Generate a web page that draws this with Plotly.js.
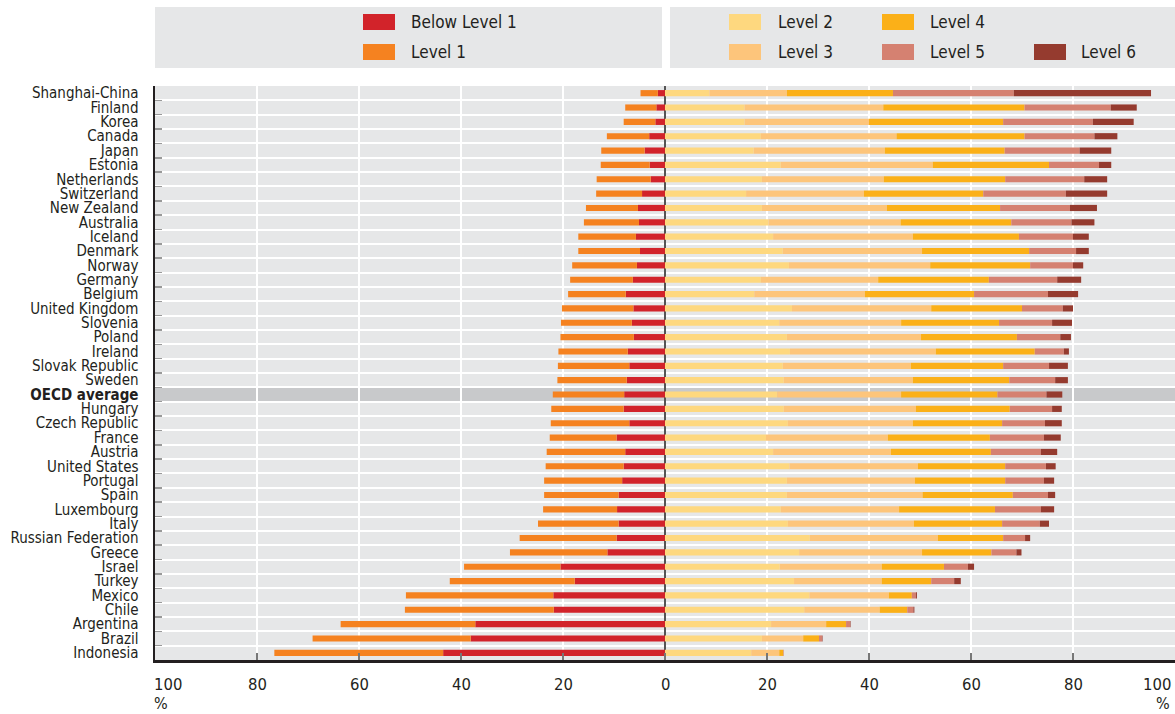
<!DOCTYPE html>
<html><head><meta charset="utf-8">
<script src="https://cdn.plot.ly/plotly-3.0.1.min.js"></script>
<style>html,body{margin:0;padding:0;background:#fff;}#chart{width:1175px;height:714px;}</style>
</head><body><div id="chart"></div>
<script>
const countries = ["Shanghai-China","Finland","Korea","Canada","Japan","Estonia","Netherlands","Switzerland","New Zealand","Australia","Iceland","Denmark","Norway","Germany","Belgium","United Kingdom","Slovenia","Poland","Ireland","Slovak Republic","Sweden","OECD average","Hungary","Czech Republic","France","Austria","United States","Portugal","Spain","Luxembourg","Italy","Russian Federation","Greece","Israel","Turkey","Mexico","Chile","Argentina","Brazil","Indonesia"];
const belowLevel1 = [1.4,1.7,1.9,3.1,4.0,3.0,2.8,4.5,5.3,5.1,5.7,4.9,5.5,6.3,7.7,6.2,6.5,6.1,7.3,7.0,7.5,8.0,8.1,7.0,9.5,7.8,8.1,8.4,9.1,9.4,9.1,9.5,11.3,20.5,17.7,21.9,21.8,37.2,38.1,43.5];
const level1 = [3.4,6.1,6.2,8.3,8.5,9.6,10.6,9.0,10.2,10.8,11.3,12.1,12.7,12.3,11.3,14.0,13.9,14.4,13.6,14.0,13.6,14.0,14.2,15.4,13.1,15.4,15.3,15.3,14.6,14.5,15.8,19.0,19.1,18.9,24.5,28.9,29.2,26.4,31.0,33.1];
const level2 = [8.7,15.6,15.6,18.8,17.4,22.7,19.0,15.9,19.0,20.3,21.2,23.1,24.3,18.8,17.5,24.9,22.4,23.9,24.5,23.1,23.3,22.0,23.3,24.1,19.8,21.2,24.4,23.9,23.9,22.7,24.1,28.4,26.3,22.5,25.3,28.3,27.3,20.8,19.0,16.9];
const level3 = [15.2,27.2,24.4,26.6,25.7,29.8,23.9,23.1,24.5,25.9,27.4,27.3,27.7,23.0,21.7,27.3,23.9,26.3,28.6,25.1,25.3,24.3,25.9,24.5,23.9,23.1,25.2,25.1,26.6,23.2,24.7,25.1,24.1,20.0,17.2,15.6,14.8,10.8,8.1,5.5];
const level4 = [20.8,27.7,26.3,25.1,23.5,22.8,23.8,23.4,22.2,21.7,20.8,21.0,19.6,21.7,21.4,17.8,19.2,18.8,19.4,18.1,18.9,18.9,18.4,17.5,20.0,19.6,17.1,17.7,17.7,18.8,17.3,12.8,13.6,12.2,9.7,4.5,5.4,3.9,3.1,0.8];
const level5 = [23.7,16.9,17.6,13.7,14.7,9.8,15.5,16.2,13.7,11.8,10.6,9.2,8.4,13.4,14.5,8.0,10.4,8.5,5.7,9.0,9.0,9.6,8.3,8.4,10.6,9.8,8.0,7.6,6.9,9.0,7.4,4.3,4.9,4.7,4.5,0.8,1.2,0.8,0.6,0.1];
const level6 = [26.9,5.1,8.0,4.5,6.2,2.4,4.5,8.1,5.3,4.5,3.1,2.5,2.0,4.7,5.9,2.0,3.9,2.1,1.0,3.7,2.5,3.1,1.9,3.3,3.3,3.2,1.9,2.0,1.4,2.6,1.8,1.0,1.0,1.2,1.3,0.2,0.2,0.1,0.1,0.0];
const levelNames = ["Below Level 1","Level 1","Level 2","Level 3","Level 4","Level 5","Level 6"];
const levelColors = ["#d2232a","#f58220","#fed87f","#fdc57b","#fbb018","#d58171","#953b2f"];
const xTickVals = [-100,-80,-60,-40,-20,0,20,40,60,80,100];
const xTickText = ["100","80","60","40","20","0","20","40","60","80","100"];
const highlight = "OECD average";

const FONT = '"DejaVu Sans Condensed","Liberation Sans Narrow","Arial Narrow",sans-serif';
const TXT = '#231f20';
const series = [belowLevel1, level1, level2, level3, level4, level5, level6];
const traces = series.map((vals, i) => ({
  type: 'bar', orientation: 'h', y: countries,
  x: i < 2 ? vals.map(v => -v) : vals,
  name: levelNames[i], marker: {color: levelColors[i], line: {width: 0}},
  hoverinfo: 'name+x', showlegend: false
}));

const L = 155, R = 1175, T = 86, B = 660;
const px = x => (x - L) / (R - L);
const py = y => (B - y) / (B - T);

const shapes = [];
const annotations = [];
const hi = countries.indexOf(highlight);
shapes.push({type:'rect', xref:'x', yref:'y', x0:-100, x1:100, y0:hi-0.5, y1:hi+0.5, fillcolor:'#c8c9cb', line:{width:0}, layer:'below'});
shapes.push({type:'rect', xref:'paper', yref:'paper', x0:px(155), x1:px(662), y0:py(68), y1:py(7), fillcolor:'#e6e7e8', line:{width:0}, layer:'below'});
shapes.push({type:'rect', xref:'paper', yref:'paper', x0:px(670), x1:px(1175), y0:py(68), y1:py(7), fillcolor:'#e6e7e8', line:{width:0}, layer:'below'});
const legendPos = [[363,14,409],[363,44,409],[729,14,776],[729,44,776],[882,14,928],[882,44,928],[1034,44,1079]];
legendPos.forEach((p, i) => {
  shapes.push({type:'rect', xref:'paper', yref:'paper', x0:px(p[0]), x1:px(p[0]+32), y0:py(p[1]+16), y1:py(p[1]), fillcolor:levelColors[i], line:{width:0}});
  annotations.push({xref:'paper', yref:'paper', x:px(p[2]), y:py(p[1]+8), xanchor:'left', yanchor:'middle', showarrow:false, text:levelNames[i], font:{family:FONT, size:17, color:TXT}});
});
xTickVals.forEach((v, i) => {
  const first = i === 0, last = i === xTickVals.length - 1;
  annotations.push({xref:'x', yref:'paper', x:v, y:py(684), xanchor: first ? 'left' : (last ? 'right' : 'center'), xshift: first ? -3 : (last ? -2 : 0), yanchor:'middle', showarrow:false, text:xTickText[i], font:{family:FONT, size:16.5, color:TXT}});
});
annotations.push({xref:'x', yref:'paper', x:-100, y:py(703), xanchor:'left', xshift:-3, yanchor:'middle', showarrow:false, text:'%', font:{family:FONT, size:16, color:TXT}});
annotations.push({xref:'x', yref:'paper', x:100, y:py(703), xanchor:'right', xshift:-3, yanchor:'middle', showarrow:false, text:'%', font:{family:FONT, size:16, color:TXT}});

const layout = {
  width: 1175, height: 714, autosize: false,
  margin: {l: L, r: 1175 - R, t: T, b: 714 - B, pad: 0},
  paper_bgcolor: '#ffffff', plot_bgcolor: '#e6e7e8',
  barmode: 'relative', bargap: 0.57,
  xaxis: {range: [-100, 100], tick0: 0, dtick: 20, showgrid: true, gridcolor: '#ffffff', gridwidth: 2,
    zeroline: true, zerolinecolor: '#555555', zerolinewidth: 2,
    showline: true, linecolor: TXT, linewidth: 2.5, ticks: 'inside', ticklen: 7, tickcolor: '#777777', tickwidth: 1.5,
    showticklabels: false, fixedrange: true},
  yaxis: {type: 'category', autorange: 'reversed', tickson: 'boundaries',
    tickmode: 'array', tickvals: countries, ticktext: countries.map(c => c === highlight ? '<b>' + c + '</b>' : c),
    ticks: 'inside', ticklen: 7, tickcolor: '#999999', tickwidth: 1.5,
    showgrid: true, gridcolor: '#ffffff', gridwidth: 2,
    showline: true, linecolor: TXT, linewidth: 2.5,
    tickfont: {family: FONT, size: 15, color: TXT}, ticklabelstandoff: 11, fixedrange: true},
  shapes: shapes, annotations: annotations
};
Plotly.newPlot('chart', traces, layout, {displayModeBar: false, staticPlot: true});
</script></body></html>
